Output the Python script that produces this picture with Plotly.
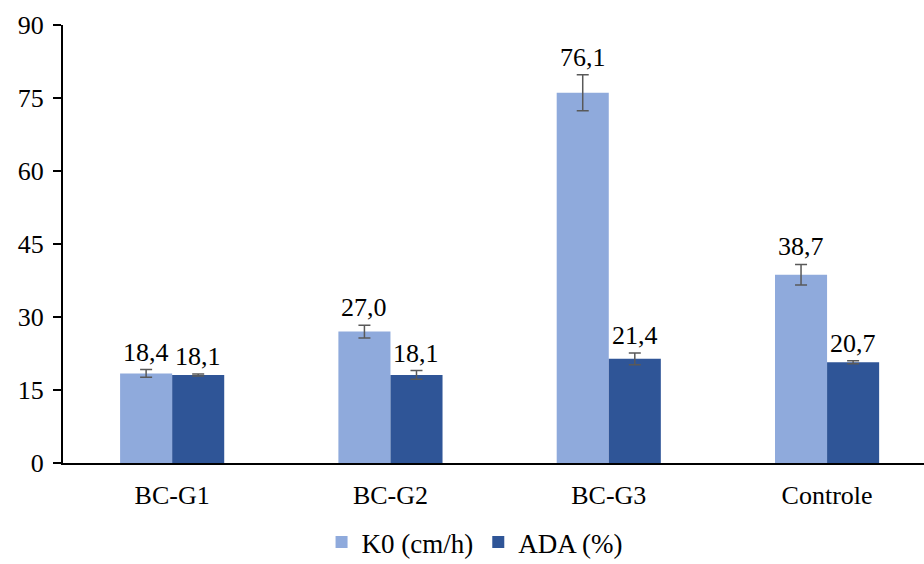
import plotly.graph_objects as go

categories = ["BC-G1", "BC-G2", "BC-G3", "Controle"]
k0_values = [18.4, 27.0, 76.1, 38.7]
k0_errors = [0.8, 1.3, 3.7, 2.1]
ada_values = [18.1, 18.1, 21.4, 20.7]
ada_errors = [0.2, 0.9, 1.2, 0.3]
y_ticks = [0, 15, 30, 45, 60, 75, 90]

def fmt(v):
    return f"{v:.1f}".replace(".", ",")

FAM = "Liberation Serif"
font = dict(family=FAM, color="#000000", size=26)

xs = list(range(len(categories)))

fig = go.Figure()
fig.add_trace(go.Bar(
    name="K0 (cm/h)", x=xs, y=k0_values,
    marker=dict(color="#8FAADC", line=dict(width=0)),
    error_y=dict(type="data", array=k0_errors, color="#595959", thickness=1.5, width=6),
))
fig.add_trace(go.Bar(
    name="ADA (%)", x=xs, y=ada_values,
    marker=dict(color="#2F5597", line=dict(width=0)),
    error_y=dict(type="data", array=ada_errors, color="#595959", thickness=1.5, width=6),
))

bar_w = 0.477 / 2
for i in xs:
    for vals, errs, off in ((k0_values, k0_errors, -bar_w / 2), (ada_values, ada_errors, bar_w / 2)):
        fig.add_annotation(
            x=i + off, y=vals[i] + errs[i], xref="x", yref="y",
            text=fmt(vals[i]), showarrow=False, yanchor="bottom", yshift=1,
            font=font,
        )

fig.update_layout(
    width=924, height=564,
    margin=dict(l=63, r=0, t=25, b=101),
    paper_bgcolor="white", plot_bgcolor="white",
    barmode="group", bargap=0.523, bargroupgap=0,
    font=font,
    showlegend=True,
    legend=dict(orientation="h", x=0.478, xanchor="center",
                yref="container", y=0.038, yanchor="middle",
                font=dict(family=FAM, size=27, color="#000000"),
                itemwidth=30, traceorder="normal"),
)
fig.update_xaxes(
    type="linear", range=[-0.5, 3.444], showline=True, linecolor="#000000", linewidth=2,
    tickvals=xs, ticktext=categories,
    ticks="", showgrid=False, tickfont=font, ticklabelstandoff=8, automargin=False,
    zeroline=False,
)
fig.update_yaxes(
    range=[0, 90], tickvals=y_ticks, showline=True, linecolor="#000000", linewidth=2,
    ticks="outside", ticklen=8, tickcolor="#000000", tickwidth=2, showgrid=False,
    tickfont=font, zeroline=False, automargin=False, ticklabelstandoff=4,
)

fig.write_html("out.html", config={"displayModeBar": False},
               post_script="document.body.style.margin='0';")
